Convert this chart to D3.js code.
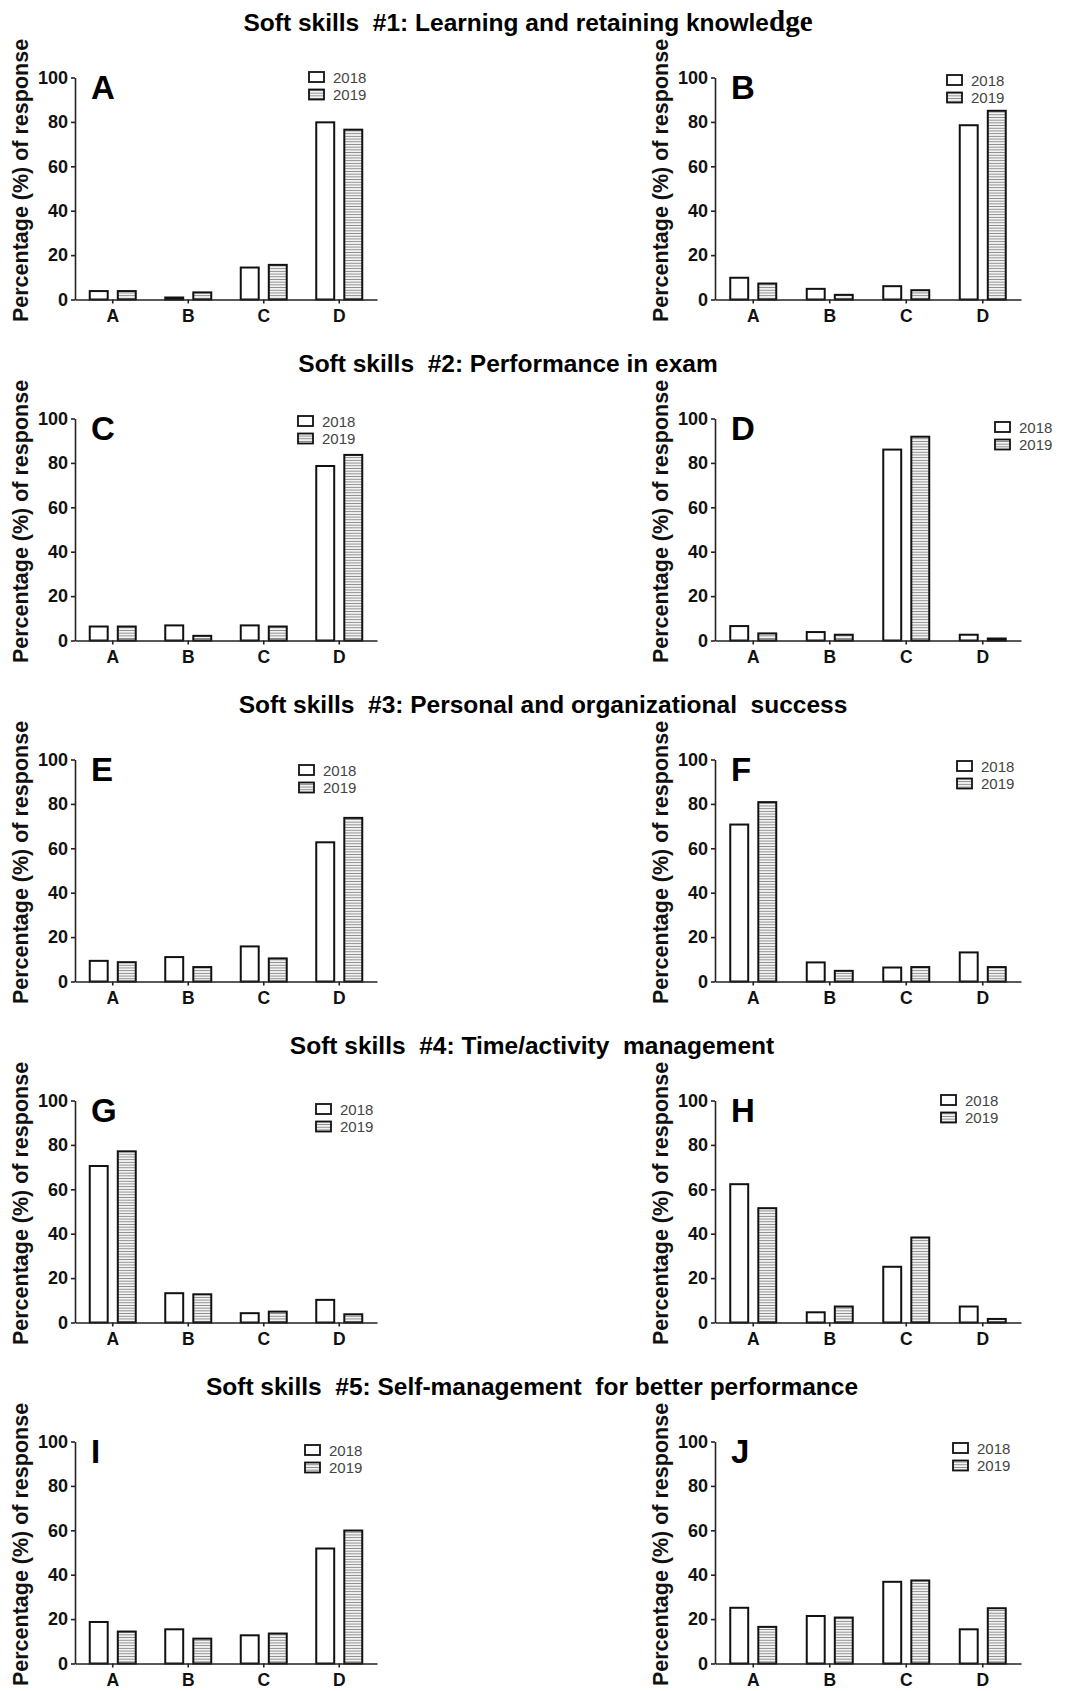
<!DOCTYPE html>
<html>
<head>
<meta charset="utf-8">
<script src="https://cdn.jsdelivr.net/npm/d3@7"></script>
<style>
body { margin: 0; background: #fff; }
text { font-family: "Liberation Sans", Arial, sans-serif; }
</style>
</head>
<body>
<div id="chart"></div>
<script>
// answer options on the x axis, and the two survey years
let categories = ["A", "B", "C", "D"];
let years = ["2018", "2019"];
let panelLabels = ["A", "B", "C", "D", "E", "F", "G", "H", "I", "J"];
let titles = [
    "Soft skills  #1: Learning and retaining knowle",
    "Soft skills  #2: Performance in exam",
    "Soft skills  #3: Personal and organizational  success",
    "Soft skills  #4: Time/activity  management",
    "Soft skills  #5: Self-management  for better performance"
];
let yTicks = [0, 20, 40, 60, 80, 100];

// percentage of response, per panel: A..D answers
let pct2018 = [
    [3.8, 0.9, 14.4, 79.8],
    [9.8, 4.8, 6.0, 78.5],
    [6.3, 6.8, 6.8, 78.6],
    [6.5, 3.8, 86.0, 2.6],
    [9.3, 11.0, 15.8, 62.7],
    [70.7, 8.6, 6.3, 13.1],
    [70.5, 13.2, 4.2, 10.2],
    [62.3, 4.6, 25.1, 7.2],
    [18.7, 15.4, 12.7, 51.8],
    [25.1, 21.4, 36.8, 15.4]
];
let pct2019 = [
    [3.8, 3.2, 15.6, 76.5],
    [7.2, 2.1, 4.2, 85.0],
    [6.3, 2.1, 6.3, 83.6],
    [3.2, 2.6, 91.8, 0.9],
    [8.7, 6.5, 10.4, 73.7],
    [80.8, 4.8, 6.5, 6.5],
    [77.1, 12.7, 4.9, 3.7],
    [51.5, 7.2, 38.3, 1.6],
    [14.4, 11.2, 13.5, 59.9],
    [16.5, 20.7, 37.4, 24.9]
];

// layout bits (legend offset from the panel's axis corner, title centres)
let legendOffset = [[234,-0.5],[232,2.5],[223,2.5],[280,8.5],[224,10.5],[242,6.5],[241,8.5],[226,-0.5],[230,8.5],[238,6.5]];
let titleCenter = [528, 508, 543, 532, 532];

function configuration(){
    let width = 1070, height = 1691;
    let svg = d3.select("#chart").append("svg")
        .attr("width", width)
        .attr("height", height);
    let defs = svg.append("defs");
    let pat = defs.append("pattern")
        .attr("id", "hatch")
        .attr("patternUnits", "userSpaceOnUse")
        .attr("width", 4).attr("height", 2.7);
    pat.append("rect").attr("width", 4).attr("height", 2.7).attr("fill", "#fff");
    pat.append("line")
        .attr("x1", 0).attr("x2", 4).attr("y1", 1.35).attr("y2", 1.35)
        .attr("stroke", "#8a8a8a").attr("stroke-width", 1.1);
    let cols = [{x0: 75, x1: 377}, {x0: 715, x1: 1021}];
    let rowTop = r => 77.5 + r * 341;
    let plotH = 222;
    return { svg, cols, rowTop, plotH };
}

function drawPanel(i, config){
    let { svg, cols, rowTop, plotH } = config;
    let col = cols[i % 2];
    let top = rowTop(Math.floor(i / 2));
    let g = svg.append("g");

    let x0 = d3.scaleBand().domain(categories).range([col.x0, col.x1]).padding(0);
    let x1 = d3.scaleBand().domain(years).range([-23, 23]).paddingInner(0.36);
    let y = d3.scaleLinear().domain([0, 100]).range([top + plotH, top]);

    let rows = categories.map((c, k) => ({ cat: c, vals: [pct2018[i][k], pct2019[i][k]] }));

    let groups = g.selectAll(".grp")
        .data(rows)
        .enter()
        .append("g")
        .attr("transform", d => "translate(" + (x0(d.cat) + x0.bandwidth() / 2) + ",0)");

    groups.selectAll("rect")
        .data(d => d.vals.map((v, j) => ({ year: years[j], v })))
        .enter()
        .append("rect")
        .attr("x", d => x1(d.year))
        .attr("width", x1.bandwidth())
        .attr("y", d => y(d.v))
        .attr("height", d => y(0) - y(d.v))
        .attr("fill", d => d.year == "2018" ? "#fff" : "url(#hatch)")
        .attr("stroke", "#111")
        .attr("stroke-width", 2);

    let yAxis = g.append("g")
        .attr("transform", "translate(" + col.x0 + ",0)")
        .call(d3.axisLeft(y).tickValues(yTicks).tickSize(4).tickSizeOuter(0).tickPadding(3));
    let xAxis = g.append("g")
        .attr("transform", "translate(0," + y(0) + ")")
        .call(d3.axisBottom(x0).tickSize(4).tickSizeOuter(0).tickPadding(6.5));
    [yAxis, xAxis].forEach(a => {
        a.select(".domain").attr("stroke", "#222").attr("stroke-width", 1.6);
        a.selectAll(".tick line").attr("stroke", "#222").attr("stroke-width", 1.6);
        a.selectAll("text")
            .attr("fill", "#111")
            .style("font-family", "'Liberation Sans', Arial, sans-serif")
            .style("font-weight", "bold");
    });
    yAxis.selectAll("text").style("font-size", "18px");
    xAxis.selectAll("text").style("font-size", "17.5px");

    // axis title
    let yl = col.x0 - 47;
    g.append("text")
        .attr("transform", "translate(" + yl + "," + (top + 103) + ") rotate(-90)")
        .attr("text-anchor", "middle")
        .style("font-size", "21.5px")
        .style("font-weight", "bold")
        .attr("fill", "#111")
        .text("Percentage (%) of response");

    // panel letter
    g.append("text")
        .attr("x", col.x0 + 16)
        .attr("y", top + 21)
        .style("font-size", "33px")
        .style("font-weight", "bold")
        .attr("fill", "#000")
        .text(panelLabels[i]);

    // legend
    let lx = col.x0 + legendOffset[i][0];
    let ly = top + legendOffset[i][1];
    let leg = g.append("g");
    leg.selectAll("rect")
        .data(years)
        .enter()
        .append("rect")
        .attr("x", lx)
        .attr("y", (d, k) => ly - 5 + k * 17.5)
        .attr("width", 15)
        .attr("height", 10)
        .attr("fill", d => d == "2018" ? "#fff" : "url(#hatch)")
        .attr("stroke", "#111")
        .attr("stroke-width", 1.8);
    leg.selectAll("text")
        .data(years)
        .enter()
        .append("text")
        .attr("x", lx + 24)
        .attr("y", (d, k) => ly + k * 17.5)
        .attr("dominant-baseline", "central")
        .style("font-size", "15px")
        .attr("fill", "#444")
        .text(d => d);
}

function drawTitles(config){
    let { svg, rowTop } = config;
    titles.forEach((t, r) => {
        let txt = svg.append("text")
            .attr("x", titleCenter[r])
            .attr("y", rowTop(r) - 47)
            .attr("text-anchor", "middle")
            .style("font-size", "24.5px")
            .style("font-weight", "bold")
            .style("white-space", "pre")
            .attr("fill", "#000");
        txt.append("tspan").text(t);
        if (r == 0) {
            txt.append("tspan")
                .style("font-family", "'Liberation Serif', 'Times New Roman', serif")
                .style("font-size", "29px")
                .text("dge");
        }
    });
}

let config = configuration();
drawTitles(config);
for (let i = 0; i < 10; i++) drawPanel(i, config);
</script>
</body>
</html>
